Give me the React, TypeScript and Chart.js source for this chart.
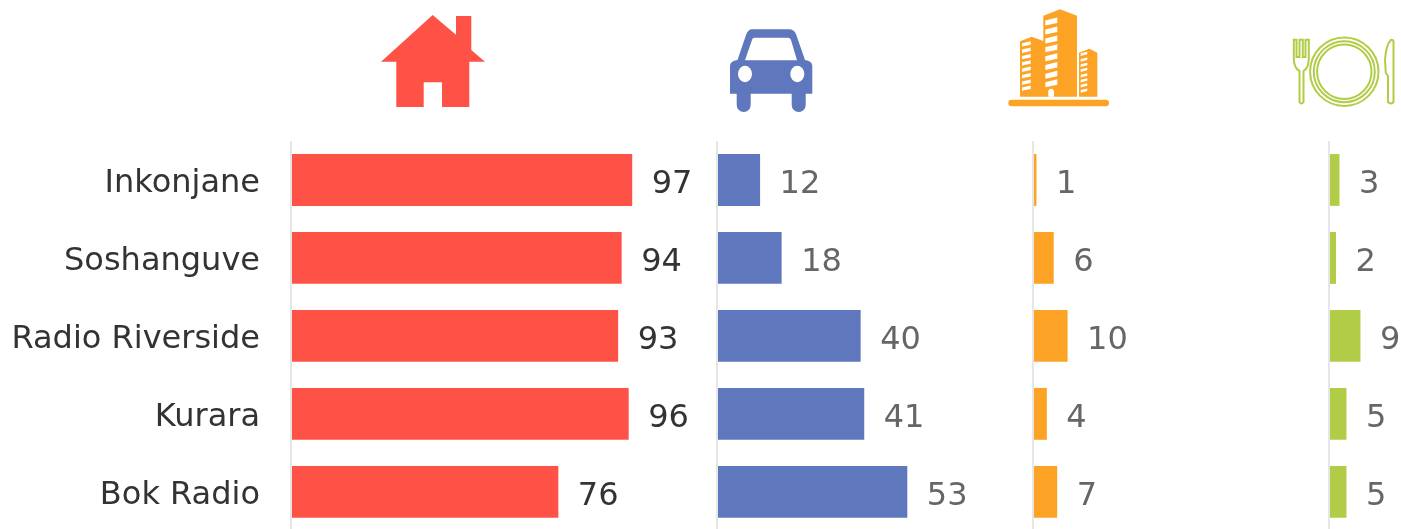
import React, { useEffect, useRef } from "react";
import { Chart, registerables } from "chart.js";

Chart.register(...registerables);

const categories = ["Inkonjane", "Soshanguve", "Radio Riverside", "Kurara", "Bok Radio"];
const homeValues = [97, 94, 93, 96, 76];
const carValues = [12, 18, 40, 41, 53];
const cityValues = [1, 6, 10, 4, 7];
const foodValues = [3, 2, 9, 5, 5];

const RED = "#ff5247";
const BLUE = "#5e77bd";
const ORANGE = "#fca326";
const GREEN = "#b1cd48";
const FONT = "'DejaVu Sans'";

const valueLabels = {
  id: "valueLabels",
  afterDatasetsDraw(chart: any) {
    const { ctx } = chart;
    ctx.save();
    ctx.font = `32px ${FONT}`;
    ctx.textAlign = "left";
    ctx.textBaseline = "alphabetic";
    chart.data.datasets.forEach((ds: any, i: number) => {
      const meta = chart.getDatasetMeta(i);
      ctx.fillStyle = i === 0 ? "#333333" : "#666666";
      meta.data.forEach((bar: any, j: number) => {
        ctx.fillText(String(ds.data[j]), bar.x + 19.5, bar.y + 13);
      });
    });
    ctx.restore();
  },
};

function xAxis(max: number, stackWeight: number, weight: number) {
  return {
    type: "linear",
    position: "bottom",
    stack: "panels",
    stackWeight,
    weight,
    min: 0,
    max,
    border: { display: false },
    ticks: { display: false },
    grid: { drawTicks: false, color: "#e6e6e6", lineWidth: 2 },
    afterBuildTicks(scale: any) {
      scale.ticks = [{ value: 0 }];
    },
  };
}

function series(data: number[], color: string, xAxisID: string) {
  return {
    data,
    xAxisID,
    yAxisID: "y",
    backgroundColor: color,
    grouped: false,
    barPercentage: 0.665,
    categoryPercentage: 1,
    clip: false,
  };
}

export default function App() {
  const ref = useRef<HTMLCanvasElement>(null);

  useEffect(() => {
    const chart = new Chart(ref.current as HTMLCanvasElement, {
      type: "bar",
      data: {
        labels: categories,
        datasets: [
          series(homeValues, RED, "x1"),
          series(carValues, BLUE, "x2"),
          series(cityValues, ORANGE, "x3"),
          series(foodValues, GREEN, "x4"),
        ] as any,
      },
      options: {
        indexAxis: "y",
        animation: false,
        responsive: false,
        layout: { padding: { top: 141, left: 0, right: 0, bottom: 0 } },
        plugins: { legend: { display: false }, tooltip: { enabled: false } },
        scales: {
          y: {
            position: "left",
            border: { display: false },
            grid: { display: false, drawTicks: false },
            ticks: { color: "#333333", padding: 31, labelOffset: 4, font: { family: FONT, size: 32 } },
            afterFit(scale: any) {
              scale.width = 291;
            },
          },
          x1: xAxis(121.1, 426, 1),
          x2: xAxis(88, 316, 2),
          x3: xAxis(85.6, 296, 3),
          x4: xAxis(20.6, 72, 4),
        } as any,
      },
      plugins: [valueLabels],
    } as any);
    return () => chart.destroy();
  }, []);

  return (
    <div style={{ position: "absolute", left: 0, top: 0, width: 1401, height: 529, overflow: "hidden", background: "#fff" }}>
      <canvas ref={ref} width={1401} height={581} style={{ display: "block" }} />
      <svg width={1401} height={529} style={{ position: "absolute", left: 0, top: 0 }}>
        {/* house */}
        <path
          fill={RED}
          d="M432.7 15 L456 34.7 V16 H471.3 V50 L485 61.7 H469.3 V107 H442 V82.3 H423.7 V107 H396.3 V61.7 H381 Z"
        />
        {/* car */}
        <path
          fill={BLUE}
          fillRule="evenodd"
          d="M752 29.3 H789 Q794 29.3 796 34 L805 60 Q812.3 61 812.3 66 V93.7 H805.7 V105 A7 7 0 0 1 791.7 105 V93.7 H750.7 V105 A7 7 0 0 1 736.7 105 V93.7 H730 V66 Q730 61 737.5 60 L746 35 Q748 29.3 752 29.3 Z M754 37.7 Q752.7 37.7 752 40 L745 60.3 H797 L791 40 Q790 37.7 788 37.7 Z"
        />
        <ellipse cx={745} cy={74} rx={7} ry={8.3} fill="#fff" />
        <ellipse cx={797.3} cy={74} rx={7} ry={8.3} fill="#fff" />
        {/* buildings */}
        <g fill={ORANGE}>
          <rect x={1008.3} y={99.7} width={100.7} height={6.6} rx={3.3} />
          <path d="M1043.3 15.7 L1060 9.3 L1077 15.7 V96.7 H1043.3 Z" />
          <path d="M1020 41.3 L1031.7 36.7 L1044 41.3 V96.7 H1020 Z" />
          <path d="M1079 52.7 L1089.3 48.7 L1097.3 52.7 V96.7 H1079 Z" />
        </g>
        <g fill="#fff">
          {[20.5, 29.5, 38.5, 47.3, 56.3, 65, 73.7, 82.3].map((y) => (
            <path key={y} d={`M1045.3 ${y} L1057.3 ${y - 3} V${y + 2.5} L1045.3 ${y + 5} Z`} />
          ))}
          {[43.3, 49.6, 56, 62.3, 68.6, 75, 81.5, 87.5].map((y) => (
            <path key={y} d={`M1022 ${y} L1030.7 ${y - 2} V${y + 1.5} L1022 ${y + 3.3} Z`} />
          ))}
          {[53.3, 59, 64.3, 69.3, 74.7, 79.7, 84.7, 90].map((y) => (
            <path key={y} d={`M1080.7 ${y} L1087.3 ${y - 1.5} V${y + 1} L1080.7 ${y + 2.7} Z`} />
          ))}
          <path d="M1048.3 96.7 V91 A2.9 2.9 0 0 1 1054 91 V96.7 Z" />
        </g>
        {/* plate and cutlery */}
        <g fill="none" stroke={GREEN} strokeWidth={2}>
          <circle cx={1344.3} cy={71.7} r={34.2} />
          <circle cx={1344.3} cy={71.7} r={30.5} />
          <circle cx={1344.3} cy={71.7} r={27.2} />
          <path d="M1293.8 39.8 H1296.5 V57 H1299.5 V39.8 H1302.8 V57 H1305.5 V39.8 H1308.8 V58 Q1308.8 68 1303.5 71 V102 Q1301.4 105 1299.5 102 V71 Q1293.8 68 1293.8 58 Z" />
          <path d="M1391 39.8 Q1393.5 39.8 1393.5 42 V102 Q1391 105 1388 102 V76 L1385.8 73 L1385 60 Q1386 45 1391 39.8 Z" />
        </g>
      </svg>
    </div>
  );
}
